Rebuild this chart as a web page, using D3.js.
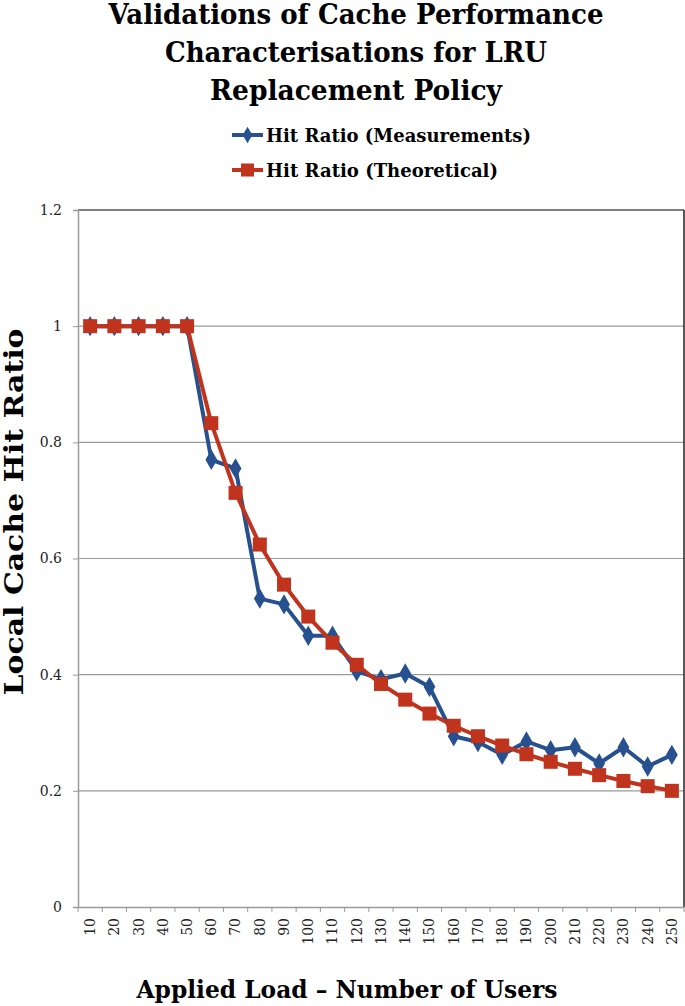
<!DOCTYPE html>
<html><head><meta charset="utf-8">
<script src="https://cdn.jsdelivr.net/npm/d3@7"></script>
<style>body{margin:0;background:#fff}svg{display:block}</style>
</head><body>
<svg id="c" width="685" height="1006"></svg>
<script>
const users = [10,20,30,40,50,60,70,80,90,100,110,120,130,140,150,160,170,180,190,200,210,220,230,240,250];
const measured = [1,1,1,1,1,0.770,0.755,0.531,0.521,0.467,0.467,0.406,0.392,0.402,0.379,0.294,0.284,0.262,0.285,0.270,0.275,0.247,0.275,0.242,0.262];
const theoretical = [1,1,1,1,1,0.833,0.713,0.624,0.555,0.500,0.455,0.417,0.384,0.357,0.333,0.312,0.294,0.278,0.263,0.250,0.238,0.227,0.217,0.208,0.200];
const yTicks = [0,0.2,0.4,0.6,0.8,1,1.2];
const titleLines = ["Validations of Cache Performance","Characterisations for LRU","Replacement Policy"];
const seriesNames = ["Hit Ratio (Measurements)","Hit Ratio (Theoretical)"];
const yTitle = "Local Cache Hit Ratio";
const xTitle = "Applied Load – Number of Users";

// layout (pixel widths measured on the reference image)
const titleWidths = [495, 382, 292];
const legendWidths = [265, 232];
const BLUE = "#27508f", RED = "#c0331d";
const svg = d3.select("#c");
const L = 78, R = 684, T = 210, B = 907;
const x = d3.scaleBand().domain(users.map(String)).range([L, R]);
const y = d3.scaleLinear().domain([0, 1.2]).range([B, T]);
const serif = "'DejaVu Serif', 'Liberation Serif', serif";

// title
svg.append("g").selectAll("text").data(titleLines).join("text")
  .attr("x", 356).attr("y", (d, i) => 24 + i * 38)
  .attr("text-anchor", "middle").attr("font-family", serif)
  .attr("font-weight", "bold").attr("font-size", 27).attr("fill", "#000")
  .attr("textLength", (d, i) => titleWidths[i]).attr("lengthAdjust", "spacingAndGlyphs")
  .text(d => d);

// gridlines
svg.append("g").selectAll("line").data(yTicks.filter(t => t > 0 && t < 1.2)).join("line")
  .attr("x1", L).attr("x2", R).attr("y1", d => y(d)).attr("y2", d => y(d))
  .attr("stroke", "#9a9a9a").attr("stroke-width", 1.2);
// top and right border
svg.append("line").attr("x1", L).attr("x2", R).attr("y1", y(1.2)).attr("y2", y(1.2))
  .attr("stroke", "#555").attr("stroke-width", 1.5);
svg.append("line").attr("x1", R).attr("x2", R).attr("y1", y(1.2)).attr("y2", B)
  .attr("stroke", "#222").attr("stroke-width", 1.5);

// y axis
const yAxis = svg.append("g").attr("transform", `translate(${L},0)`)
  .call(d3.axisLeft(y).tickValues(yTicks).tickSize(5).tickPadding(11).tickFormat(d => String(+d.toFixed(1))));
yAxis.select(".domain").attr("stroke", "#9a9a9a").attr("stroke-width", 1.5);
yAxis.selectAll(".tick line").attr("stroke", "#9a9a9a");
yAxis.selectAll(".tick text").attr("font-family", serif).attr("font-size", 14).attr("fill", "#222");

// x axis
const xAxis = svg.append("g").attr("transform", `translate(0,${B})`)
  .call(d3.axisBottom(x).tickSize(0).tickPadding(0));
xAxis.select(".domain").attr("stroke", "#9a9a9a").attr("stroke-width", 1.5);
xAxis.selectAll(".tick text").attr("font-family", serif).attr("font-size", 14).attr("fill", "#222")
  .attr("transform", "rotate(-90)").attr("text-anchor", "end").attr("dy", "0.35em").attr("x", -11).attr("y", 0);
// boundary tick marks
svg.append("g").selectAll("line").data(users.map(String).concat(["__end"])).join("line")
  .attr("x1", d => d === "__end" ? R : x(d)).attr("x2", d => d === "__end" ? R : x(d))
  .attr("y1", B).attr("y2", B + 5).attr("stroke", "#9a9a9a").attr("stroke-width", 1);

const cx = d => x(String(d)) + x.bandwidth() / 2;
const line = d3.line().x(d => cx(d[0])).y(d => y(d[1]));

// series
const mData = users.map((u, i) => [u, measured[i]]);
const tData = users.map((u, i) => [u, theoretical[i]]);
svg.append("path").datum(mData).attr("d", line).attr("fill", "none").attr("stroke", BLUE).attr("stroke-width", 4).attr("stroke-linejoin", "round");
svg.append("g").selectAll("path").data(mData).join("path")
  .attr("d", d3.symbol(d3.symbolDiamond, 120)).attr("transform", d => `translate(${cx(d[0])},${y(d[1])})`).attr("fill", BLUE);
svg.append("path").datum(tData).attr("d", line).attr("fill", "none").attr("stroke", RED).attr("stroke-width", 4).attr("stroke-linejoin", "round");
svg.append("g").selectAll("rect").data(tData).join("rect")
  .attr("x", d => cx(d[0]) - 7).attr("y", d => y(d[1]) - 7).attr("width", 14).attr("height", 14).attr("fill", RED);

// legend
const leg = svg.append("g");
[BLUE, RED].forEach((c, i) => {
  const ly = 135 + i * 35;
  leg.append("line").attr("x1", 232).attr("x2", 263).attr("y1", ly).attr("y2", ly).attr("stroke", c).attr("stroke-width", 4);
  if (i === 0) leg.append("path").attr("d", d3.symbol(d3.symbolDiamond, 80)).attr("transform", `translate(247.5,${ly})`).attr("fill", c);
  else leg.append("rect").attr("x", 241).attr("y", ly - 6.5).attr("width", 13).attr("height", 13).attr("fill", c);
  leg.append("text").attr("x", 266).attr("y", ly + 7).attr("font-family", serif).attr("font-weight", "bold")
    .attr("font-size", 19).attr("fill", "#000")
    .attr("textLength", legendWidths[i]).attr("lengthAdjust", "spacingAndGlyphs").text(seriesNames[i]);
});

// axis titles
svg.append("text").attr("transform", "translate(23,512) rotate(-90)").attr("text-anchor", "middle")
  .attr("font-family", serif).attr("font-weight", "bold").attr("font-size", 26).attr("fill", "#000")
  .attr("textLength", 367).attr("lengthAdjust", "spacingAndGlyphs").text(yTitle);
svg.append("text").attr("x", 347).attr("y", 998).attr("text-anchor", "middle")
  .attr("font-family", serif).attr("font-weight", "bold").attr("font-size", 24).attr("fill", "#000")
  .attr("textLength", 421).attr("lengthAdjust", "spacingAndGlyphs").text(xTitle);
</script>
</body></html>
